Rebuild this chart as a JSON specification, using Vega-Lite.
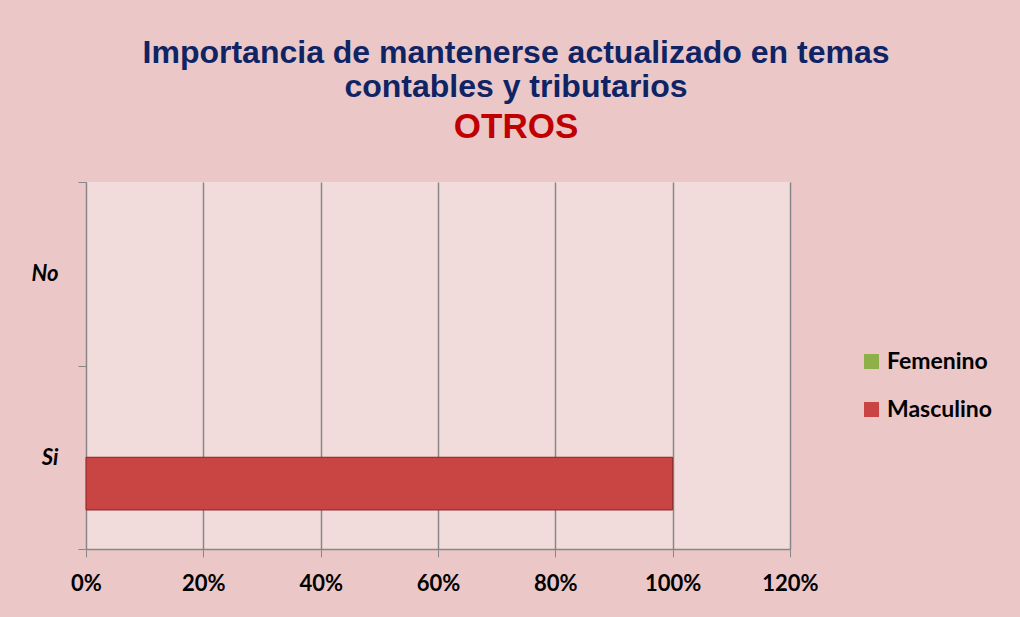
{
  "$schema": "https://vega.github.io/schema/vega-lite/v6.json",
  "width": 704,
  "height": 367,
  "autosize": {"type": "none"},
  "padding": {"left": 86, "top": 182, "right": 230, "bottom": 68},
  "background": "#EBC7C7",
  "title": {
    "text": ["Importancia de mantenerse actualizado en temas", "contables y tributarios"],
    "subtitle": "OTROS",
    "anchor": "middle",
    "frame": "group",
    "dx": 78,
    "offset": 25,
    "font": "Liberation Sans",
    "fontSize": 32,
    "fontWeight": "bold",
    "lineHeight": 34,
    "color": "#0F2464",
    "subtitleFont": "Liberation Sans",
    "subtitleFontSize": 35,
    "subtitleFontWeight": "bold",
    "subtitleColor": "#C00000",
    "subtitlePadding": 6
  },
  "data": {
    "values": [
      {"respuesta": "No", "sexo": "Femenino", "porcentaje": 0},
      {"respuesta": "No", "sexo": "Masculino", "porcentaje": 0},
      {"respuesta": "Si", "sexo": "Femenino", "porcentaje": 0},
      {"respuesta": "Si", "sexo": "Masculino", "porcentaje": 1}
    ]
  },
  "mark": {"type": "bar", "stroke": "#8A2624"},
  "encoding": {
    "y": {
      "field": "respuesta",
      "type": "nominal",
      "sort": ["No", "Si"],
      "scale": {"paddingInner": 0, "paddingOuter": 0},
      "axis": {
        "title": null,
        "tickBand": "extent",
        "grid": false,
        "domainColor": "#878787",
        "tickColor": "#878787",
        "tickSize": 8,
        "labelPadding": 20,
        "labelFont": "Lato",
        "labelFontSize": 22,
        "labelFontWeight": "bold",
        "labelFontStyle": "italic",
        "labelColor": "#000000"
      }
    },
    "yOffset": {
      "field": "sexo",
      "type": "nominal",
      "sort": ["Femenino", "Masculino"],
      "scale": {"paddingInner": 0, "paddingOuter": 0.74}
    },
    "x": {
      "field": "porcentaje",
      "type": "quantitative",
      "scale": {"domain": [0, 1.2], "nice": false},
      "axis": {
        "title": null,
        "values": [0, 0.2, 0.4, 0.6, 0.8, 1.0, 1.2],
        "format": ".0%",
        "grid": true,
        "gridColor": "#878787",
        "gridWidth": 1.5,
        "domainColor": "#878787",
        "domainWidth": 1.5,
        "tickColor": "#878787",
        "tickSize": 8,
        "labelPadding": 16,
        "labelFlush": false,
        "labelOverlap": false,
        "labelFont": "Lato",
        "labelFontSize": 22,
        "labelFontWeight": "bold",
        "labelColor": "#000000"
      }
    },
    "strokeWidth": {
      "condition": {"test": "datum.porcentaje > 0", "value": 1},
      "value": 0
    },
    "color": {
      "field": "sexo",
      "type": "nominal",
      "scale": {"domain": ["Femenino", "Masculino"], "range": ["#8DB048", "#C94543"]},
      "legend": {
        "title": null,
        "orient": "none",
        "legendX": 774,
        "legendY": 168,
        "padding": 0,
        "symbolType": "square",
        "symbolSize": 225,
        "symbolStrokeWidth": 0,
        "rowPadding": 24,
        "labelFont": "Lato",
        "labelFontSize": 23,
        "labelFontWeight": "bold",
        "labelColor": "#000000",
        "labelOffset": 4
      }
    }
  },
  "config": {"view": {"fill": "#F2DCDB", "stroke": null}}
}
